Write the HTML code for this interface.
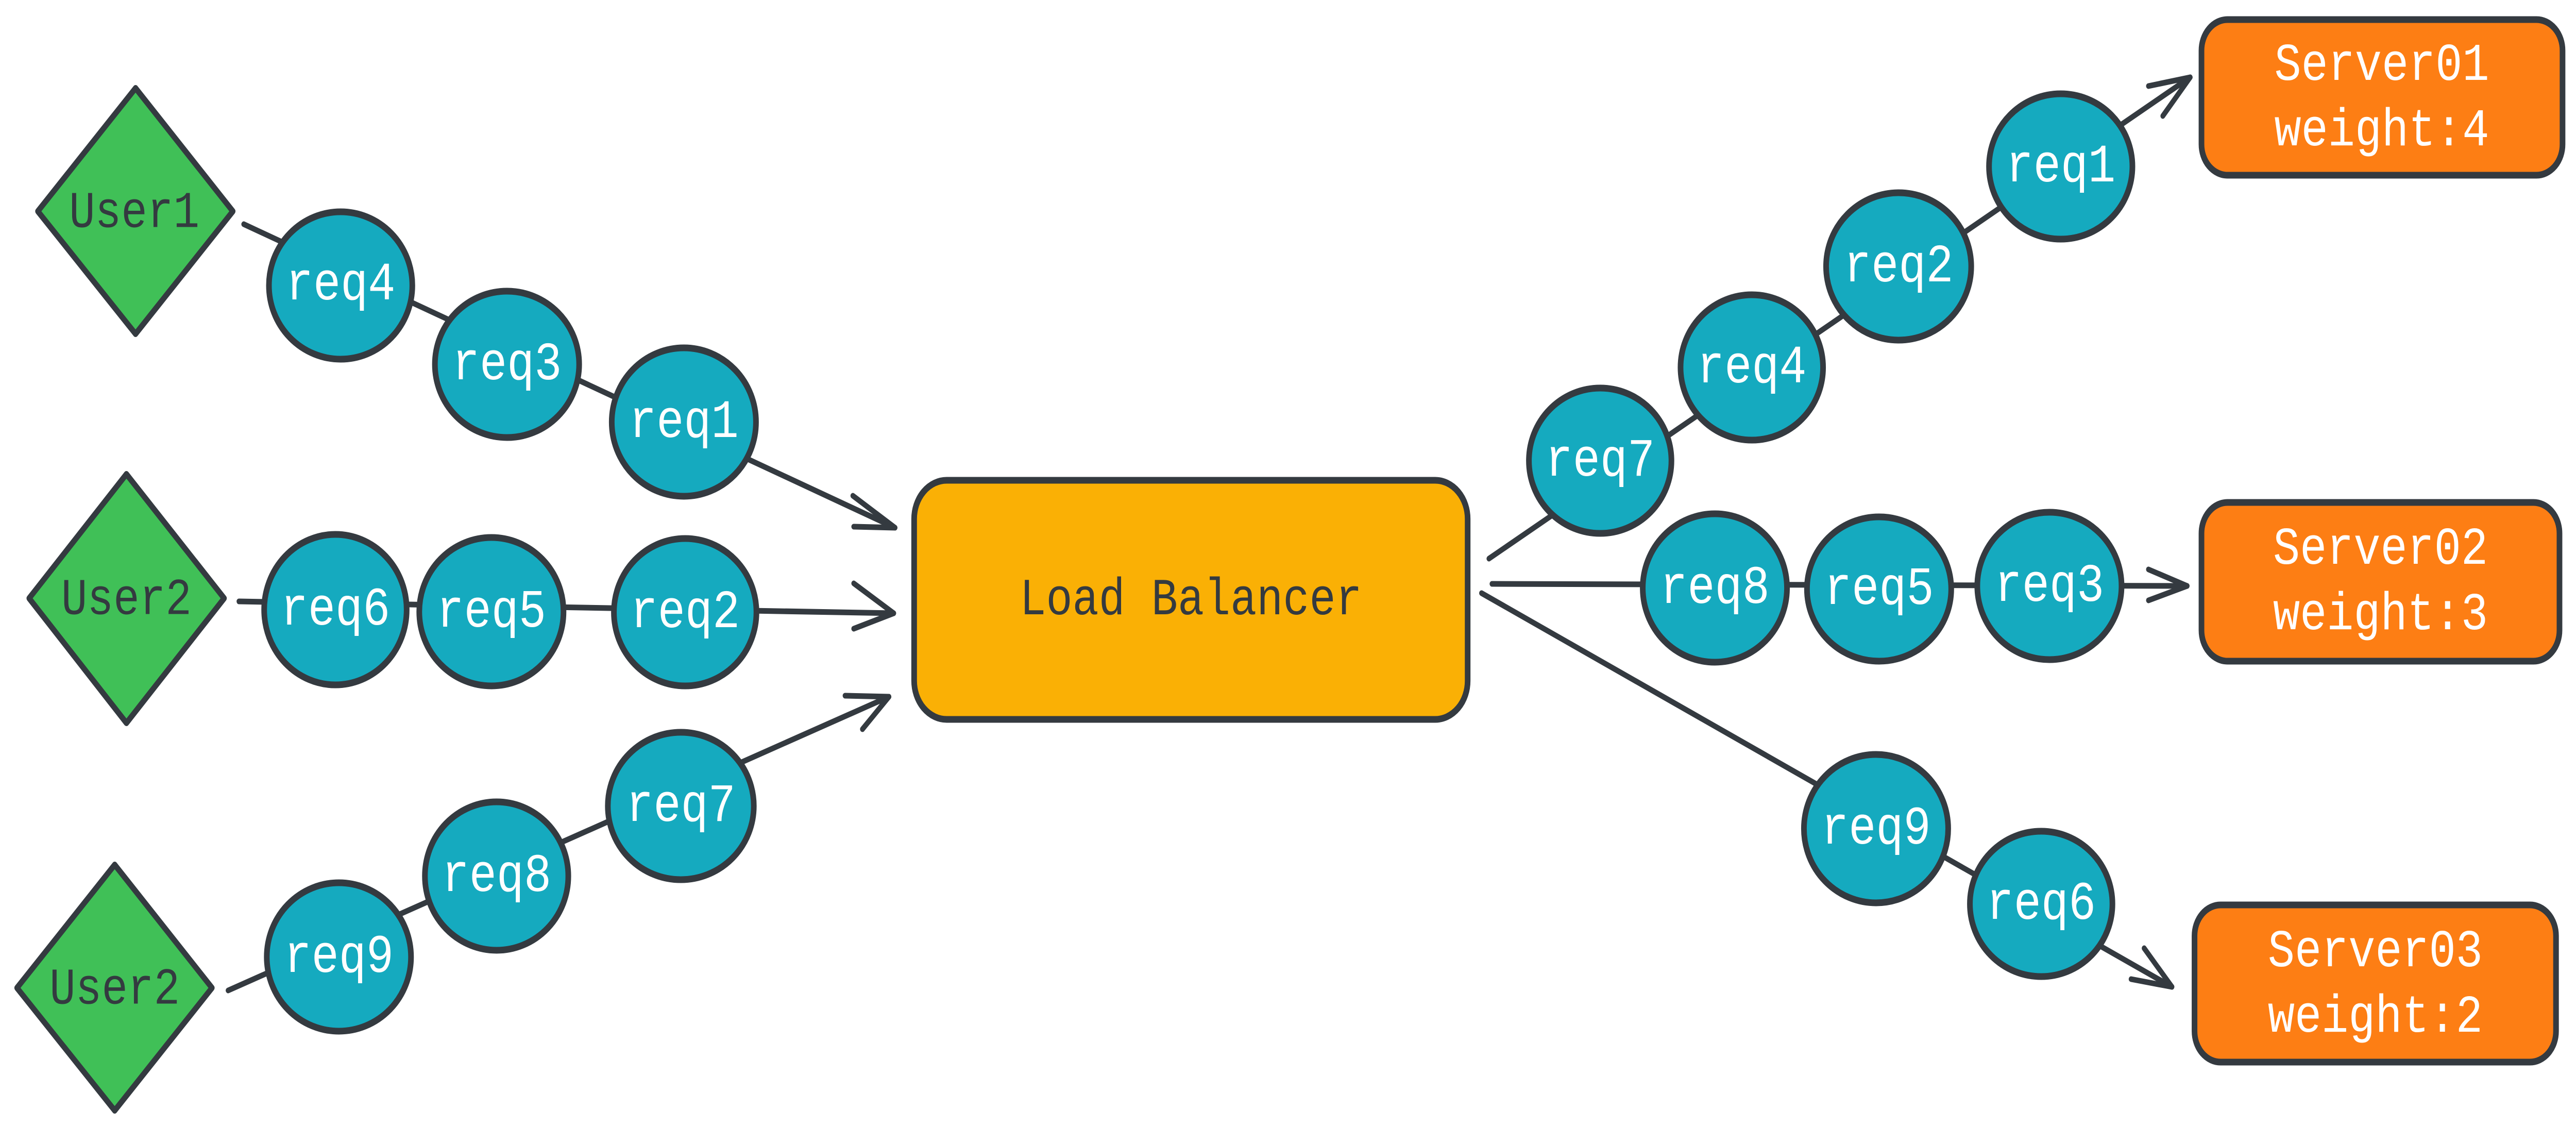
<!DOCTYPE html>
<html><head><meta charset="utf-8"><style>
html,body{margin:0;padding:0;background:#fff;width:100%;height:100%;overflow:hidden;}
svg{display:block;position:absolute;left:0;top:0;width:100vw;height:100vh;}
text{font-family:"Liberation Mono",monospace;text-anchor:middle;dominant-baseline:central;}
</style></head><body>
<svg viewBox="0 0 5929 2185" preserveAspectRatio="none" xmlns="http://www.w3.org/2000/svg">
<g stroke="#343a40" stroke-width="11" stroke-linecap="round" stroke-linejoin="round" fill="none">
<line x1="561" y1="435" x2="2060" y2="1024"/>
<line x1="550" y1="1167" x2="2057" y2="1190"/>
<line x1="525" y1="1922" x2="2046" y2="1352"/>
<polyline points="1963,962 2060,1024 1965,1022"/>
<polyline points="1965,1132 2057,1190 1965,1220"/>
<polyline points="1945,1350 2046,1352 1985,1415"/>
<line x1="3427" y1="1084" x2="5041" y2="150"/>
<line x1="3434" y1="1133" x2="5034" y2="1137"/>
<line x1="3410" y1="1151" x2="4999" y2="1915"/>
<polyline points="4945,167 5041,150 4978,225"/>
<polyline points="4945,1105 5034,1137 4945,1165"/>
<polyline points="4905,1900 4999,1915 4935,1840"/>
</g>
<g stroke="#343a40" stroke-width="12" fill="#40c057" stroke-linejoin="round">
<polygon points="312,171 536,410 312,648 87,410"/>
<polygon points="291,920 516,1161 291,1403 67,1161"/>
<polygon points="264,1678 488,1917 264,2155 39,1917"/>
</g>
<g fill="#343a40" font-size="100">
<text x="309" y="414">User1</text>
<text x="291" y="1165">User2</text>
<text x="264" y="1921">User2</text>
</g>
<rect x="2104" y="932" width="1274" height="464" rx="75" fill="#fab005" stroke="#343a40" stroke-width="13"/>
<text x="2741" y="1166" font-size="101" fill="#343a40">Load Balancer</text>
<g fill="#fd7e14" stroke="#343a40" stroke-width="13">
<rect x="5067" y="38" width="831" height="302" rx="60"/>
<rect x="5067" y="975" width="824" height="308" rx="60"/>
<rect x="5051" y="1756" width="832" height="305" rx="60"/>
</g>
<g fill="#fff" font-size="103">
<text x="5482" y="128">Server01</text><text x="5482" y="255">weight:4</text>
<text x="5479" y="1067">Server02</text><text x="5479" y="1194">weight:3</text>
<text x="5467" y="1848">Server03</text><text x="5467" y="1975">weight:2</text>
</g>
<g fill="#15aabf" stroke="#343a40" stroke-width="13">
<ellipse cx="784" cy="554" rx="165" ry="143"/>
<ellipse cx="1167" cy="707" rx="166" ry="142"/>
<ellipse cx="1574" cy="819" rx="166" ry="144"/>
<ellipse cx="772" cy="1183" rx="164" ry="146"/>
<ellipse cx="1131" cy="1187" rx="166" ry="144"/>
<ellipse cx="1577" cy="1188" rx="164" ry="143"/>
<ellipse cx="780" cy="1857" rx="166" ry="144"/>
<ellipse cx="1143" cy="1700" rx="165" ry="144"/>
<ellipse cx="1567" cy="1564" rx="168" ry="143"/>
<ellipse cx="4743" cy="323" rx="165" ry="141"/>
<ellipse cx="4370" cy="517" rx="167" ry="143"/>
<ellipse cx="4032" cy="713" rx="164" ry="141"/>
<ellipse cx="3683" cy="894" rx="164" ry="141"/>
<ellipse cx="3947" cy="1141" rx="166" ry="144"/>
<ellipse cx="4325" cy="1143" rx="166" ry="140"/>
<ellipse cx="4717" cy="1137" rx="166" ry="143"/>
<ellipse cx="4318" cy="1608" rx="166" ry="144"/>
<ellipse cx="4698" cy="1754" rx="164" ry="141"/>
</g>
<g fill="#fff" font-size="105">
<text x="784" y="554">req4</text>
<text x="1167" y="709">req3</text>
<text x="1574" y="821">req1</text>
<text x="772" y="1185">req6</text>
<text x="1131" y="1189">req5</text>
<text x="1577" y="1190">req2</text>
<text x="780" y="1859">req9</text>
<text x="1143" y="1702">req8</text>
<text x="1567" y="1566">req7</text>
<text x="4743" y="325">req1</text>
<text x="4370" y="519">req2</text>
<text x="4032" y="715">req4</text>
<text x="3683" y="896">req7</text>
<text x="3947" y="1143">req8</text>
<text x="4325" y="1145">req5</text>
<text x="4717" y="1139">req3</text>
<text x="4318" y="1610">req9</text>
<text x="4698" y="1756">req6</text>
</g>
</svg>
</body></html>
